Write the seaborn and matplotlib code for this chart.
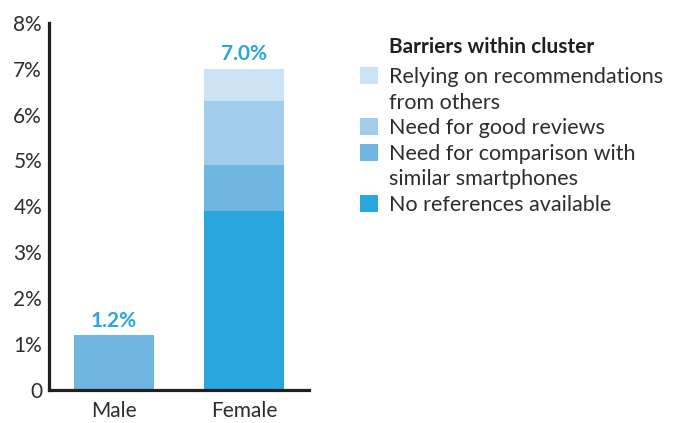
import matplotlib
matplotlib.use("Agg")
import matplotlib.pyplot as plt
import numpy as np
import seaborn as sns
from matplotlib.patches import Patch

# data (percent)
categories = ["Male", "Female"]
no_references = [0.0, 3.9]
comparison = [1.2, 1.0]
good_reviews = [0.0, 1.4]
relying = [0.0, 0.7]
totals = ["1.2%", "7.0%"]

series_names = [
    "No references available",
    "Need for comparison with\nsimilar smartphones",
    "Need for good reviews",
    "Relying on recommendations\nfrom others",
]
series_values = [no_references, comparison, good_reviews, relying]
colors = ["#29a6de", "#6fb6e2", "#a2ccec", "#cce3f5"]

yticks = [0, 1, 2, 3, 4, 5, 6, 7, 8]
ytick_labels = ["0", "1%", "2%", "3%", "4%", "5%", "6%", "7%", "8%"]

sns.set_style("white")
plt.rcParams["font.family"] = ["Lato", "DejaVu Sans"]
text_color = "#2e2c2d"
axis_color = "#231f20"

fig = plt.figure(figsize=(6.8, 4.23), dpi=100)
ax = fig.add_axes([49 / 680, 1 - 390 / 423, 260 / 680, 367.3 / 423])

# stack the layers with seaborn, each one on top of the previous sum
bottom = np.zeros(len(categories))
for vals, col in zip(series_values, colors):
    sns.barplot(x=categories, y=vals, bottom=bottom, color=col, width=0.61,
                linewidth=0, saturation=1, ax=ax)
    bottom = bottom + np.array(vals)

for i, (tot, lab) in enumerate(zip(bottom, totals)):
    ax.annotate(lab, (i, tot), xytext=(0, 3), textcoords="offset points",
                ha="center", va="bottom", color="#29a6de", fontsize=15,
                fontweight="bold")

ax.set_xlim(-0.5, 1.5)
ax.set_ylim(0, 8)
ax.set_yticks(yticks)
ax.set_yticklabels(ytick_labels)
ax.tick_params(axis="both", length=0, labelsize=15, colors=text_color)
ax.tick_params(axis="y", pad=5)
ax.tick_params(axis="x", pad=8)
sns.despine(ax=ax)
for s in ["left", "bottom"]:
    ax.spines[s].set_linewidth(2.3)
    ax.spines[s].set_color(axis_color)

handles = [Patch(facecolor=c, edgecolor="none") for c in colors[::-1]]
leg = ax.legend(handles, series_names[::-1], loc="upper left",
                bbox_to_anchor=(360 / 680, 1 - 67 / 423),
                bbox_transform=fig.transFigure, frameon=False, fontsize=15.5,
                handlelength=0.85, handleheight=0.85, handletextpad=0.5,
                labelspacing=0.25, borderpad=0, borderaxespad=0)
for t in leg.get_texts():
    t.set_color(text_color)
    t.set_linespacing(1.36)
# put the swatch next to the first line of a two-line label
for col in leg._legend_handle_box.get_children():
    for row in col.get_children():
        row.align = "top"

fig.text(389 / 680, 1 - 47 / 423, "Barriers within cluster", fontsize=15,
         fontweight="bold", color=axis_color, va="center", ha="left")

fig.savefig("out.png", dpi=100)
